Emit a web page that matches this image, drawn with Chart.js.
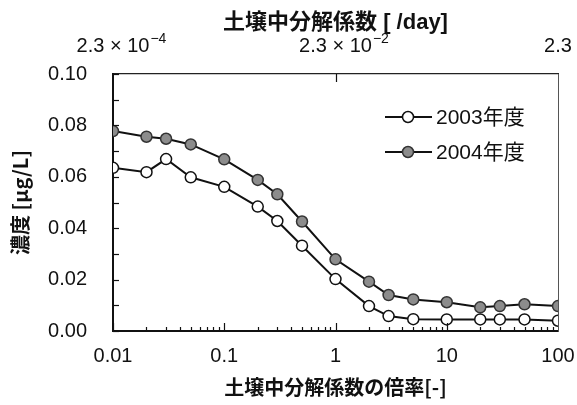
<!DOCTYPE html>
<html><head><meta charset="utf-8">
<script src="https://cdn.jsdelivr.net/npm/chart.js@4.4.0/dist/chart.umd.min.js"></script>
<style>html,body{margin:0;padding:0;background:#fff}#wrap{width:577px;height:405px;position:relative}</style>
</head><body><div id="wrap"><canvas id="c" width="577" height="405"></canvas></div>
<script>
// ---- data ----
const factors = [0.01,0.02,0.03,0.05,0.1,0.2,0.3,0.5,1,2,3,5,10,20,30,50,100];
const conc2003 = [0.0635,0.0618,0.0669,0.0598,0.0561,0.0484,0.0428,0.0332,0.0202,0.0097,0.0058,0.0046,0.0045,0.0045,0.0045,0.0045,0.0040];
const conc2004 = [0.0778,0.0756,0.0748,0.0726,0.0668,0.0588,0.0532,0.0426,0.0279,0.0192,0.0140,0.0123,0.0112,0.0092,0.0097,0.0104,0.0097];
const seriesNames = ['2003年度','2004年度'];
const bottomTickValues = [0.01,0.1,1,10,100];
const bottomTickLabels = ['0.01','0.1','1','10','100'];
const yTickValues = [0,0.02,0.04,0.06,0.08,0.10];
const yTickLabels = ['0.00','0.02','0.04','0.06','0.08','0.10'];
const topTickValues = [0.01,1,100];
const topTickMantissa = ['2.3 × 10','2.3 × 10','2.3'];
const topTickExponent = ['−4','−2',''];
const xTitle = '土壌中分解係数の倍率[-]';
const topTitle = '土壌中分解係数 [ /day]';
const yTitle = '濃度 [μg/L]';

const NUM_FONT = "'Liberation Sans', Arial, 'Noto Sans CJK JP', sans-serif";

const decor = {
  id: 'decor',
  afterDraw(chart) {
    const ctx = chart.ctx;
    const sx = chart.scales.x, sx2 = chart.scales.x2, sy = chart.scales.y;
    const a = chart.chartArea;
    ctx.save();
    ctx.strokeStyle = '#111';
    ctx.lineWidth = 1.2;
    // y inward ticks
    for (let k = 0; k <= 10; k++) {
      const py = Math.round(sy.getPixelForValue(k / 100)) + 0.5;
      ctx.beginPath(); ctx.moveTo(a.left, py); ctx.lineTo(a.left + 6, py); ctx.stroke();
    }
    // bottom inward log ticks
    for (let e = -2; e <= 1; e++) {
      const d = Math.pow(10, e);
      for (let k = 1; k <= 9; k++) {
        const px = Math.round(sx.getPixelForValue(d * k)) + 0.5;
        const len = k === 1 ? 8 : 4;
        ctx.beginPath(); ctx.moveTo(px, a.bottom); ctx.lineTo(px, a.bottom - len); ctx.stroke();
      }
    }
    // top inward tick at middle value
    {
      const px = Math.round(sx2.getPixelForValue(topTickValues[1])) + 0.5;
      ctx.beginPath(); ctx.moveTo(px, a.top); ctx.lineTo(px, a.top + 8); ctx.stroke();
    }
    // top tick labels with superscript exponent
    ctx.fillStyle = '#111';
    ctx.textBaseline = 'alphabetic';
    ctx.textAlign = 'left';
    topTickValues.forEach((v, i) => {
      const px = sx2.getPixelForValue(v);
      ctx.font = '20px ' + NUM_FONT;
      const w = ctx.measureText(topTickMantissa[i]).width;
      const x0 = px - w / 2;
      const base = 52;
      ctx.fillText(topTickMantissa[i], x0, base);
      if (topTickExponent[i]) {
        ctx.font = '14px ' + NUM_FONT;
        ctx.fillText(topTickExponent[i], x0 + w + 1, base - 9);
      }
    });
    // legend
    chart.data.datasets.forEach((ds, i) => {
      const ly = 117 + i * 35;
      ctx.strokeStyle = ds.borderColor;
      ctx.lineWidth = 2;
      ctx.beginPath(); ctx.moveTo(385, ly); ctx.lineTo(432, ly); ctx.stroke();
      ctx.beginPath(); ctx.arc(408, ly, 5.5, 0, Math.PI * 2);
      ctx.fillStyle = ds.pointBackgroundColor; ctx.fill();
      ctx.lineWidth = 1.5; ctx.strokeStyle = ds.pointBorderColor; ctx.stroke();
      ctx.fillStyle = '#111';
      ctx.font = '21px ' + NUM_FONT;
      ctx.textBaseline = 'middle';
      ctx.fillText(ds.label, 436, ly + 1);
    });
    ctx.restore();
  }
};

new Chart(document.getElementById('c'), {
  type: 'line',
  data: {
    datasets: [
      {
        label: seriesNames[0],
        data: factors.map((f, i) => ({x: f, y: conc2003[i]})),
        borderColor: '#111', borderWidth: 2,
        pointRadius: 5.5, pointBackgroundColor: '#ffffff', pointBorderColor: '#111', pointBorderWidth: 1.5,
        xAxisID: 'x', yAxisID: 'y'
      },
      {
        label: seriesNames[1],
        data: factors.map((f, i) => ({x: f, y: conc2004[i]})),
        borderColor: '#111', borderWidth: 2,
        pointRadius: 5.5, pointBackgroundColor: '#8c8c8c', pointBorderColor: '#333', pointBorderWidth: 1.5,
        xAxisID: 'x', yAxisID: 'y'
      }
    ]
  },
  options: {
    responsive: false, animation: false, devicePixelRatio: 1,
    layout: {padding: 0},
    plugins: {legend: {display: false}, tooltip: {enabled: false}},
    scales: {
      x: {
        type: 'logarithmic', position: 'bottom', min: 0.01, max: 100,
        afterBuildTicks(s) { s.ticks = bottomTickValues.map(v => ({value: v})); },
        afterFit(s) { s.height = 74; },
        ticks: {
          autoSkip: false, maxRotation: 0, padding: 0, color: '#111',
          font: {size: 20, family: NUM_FONT},
          callback: (v, i) => bottomTickLabels[i]
        },
        grid: {display: false, drawTicks: true, tickLength: 13},
        border: {display: true, color: '#111', width: 2},
        title: {display: true, text: xTitle, color: '#111', padding: {top: 0, bottom: 8},
          font: {size: 20, weight: 'bold', family: "'Noto Sans CJK JP', sans-serif", lineHeight: 1}}
      },
      x2: {
        type: 'logarithmic', position: 'top', min: 0.01, max: 100,
        afterFit(s) { s.height = 74; },
        ticks: {display: false},
        grid: {display: false, drawTicks: false},
        border: {display: true, color: '#222', width: 1.2},
        title: {display: true, text: topTitle, color: '#111', padding: {top: 12, bottom: 0},
          font: {size: 22, weight: 'bold', family: "'Liberation Sans', 'Noto Sans CJK JP', sans-serif", lineHeight: 1}}
      },
      y: {
        type: 'linear', position: 'left', min: 0, max: 0.1,
        afterBuildTicks(s) { s.ticks = yTickValues.map(v => ({value: v})); },
        afterFit(s) { s.width = 113; },
        ticks: {
          padding: 26, color: '#111',
          font: {size: 20, family: NUM_FONT},
          callback: (v, i) => yTickLabels[i]
        },
        grid: {display: false, drawTicks: false},
        border: {display: true, color: '#111', width: 2},
        title: {display: true, text: yTitle, color: '#111', padding: {top: 10, bottom: 0},
          font: {size: 20, weight: 'bold', family: "'Noto Sans CJK JP', sans-serif", lineHeight: 1}}
      },
      yR: {
        type: 'linear', position: 'right', min: 0, max: 0.1, display: true,
        afterFit(s) { s.width = 19; },
        ticks: {display: false},
        grid: {display: false, drawTicks: false},
        border: {display: true, color: '#555', width: 1}
      }
    }
  },
  plugins: [decor]
});
</script>
</body></html>
